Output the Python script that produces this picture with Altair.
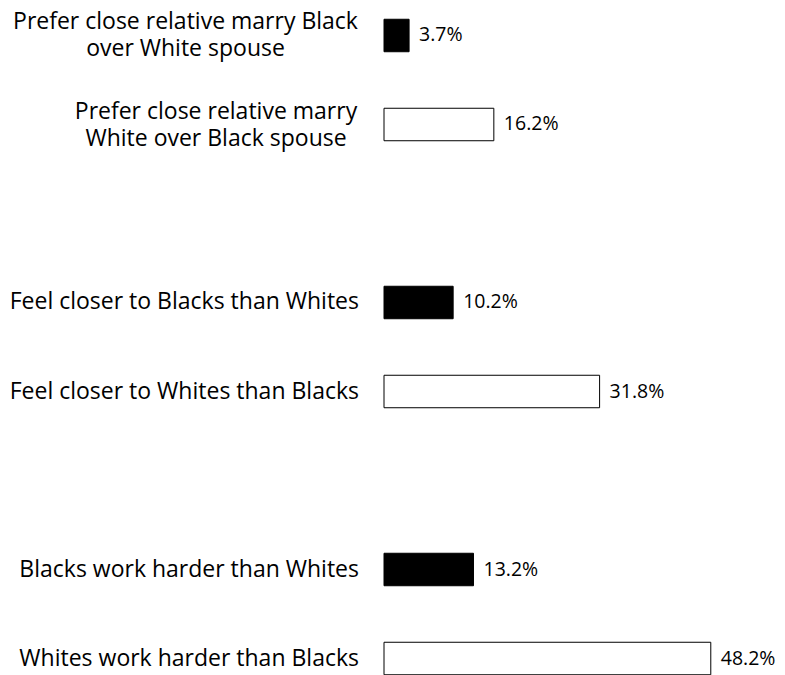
import altair as alt
import pandas as pd

categories = [
    "Prefer close relative marry Black\nover White spouse",
    "Prefer close relative marry\nWhite over Black spouse",
    "Feel closer to Blacks than Whites",
    "Feel closer to Whites than Blacks",
    "Blacks work harder than Whites",
    "Whites work harder than Blacks",
]
values = [3.7, 16.2, 10.2, 31.8, 13.2, 48.2]
favors = ["Black", "White", "Black", "White", "Black", "White"]
value_labels = ["3.7%", "16.2%", "10.2%", "31.8%", "13.2%", "48.2%"]

df = pd.DataFrame({
    "cat": categories,
    "value": values,
    "favors": favors,
    "label": value_labels,
    "idx": list(range(len(categories))),
})

y_domain = [categories[0], categories[1], "gap1", categories[2], categories[3],
            "gap2", categories[4], categories[5]]

FONT = "Open Sans"
CAT_SIZE = 23
VAL_SIZE = 19.5

y = alt.Y("cat:N", scale=alt.Scale(domain=y_domain, paddingInner=0.635, paddingOuter=0),
          axis=None, sort=None)
x = alt.X("value:Q", scale=alt.Scale(domain=[0, 50]), axis=None)
x0 = alt.X("zero:Q", scale=alt.Scale(domain=[0, 50]), axis=None)

base = alt.Chart(df)

bars = base.mark_bar(stroke="black", strokeWidth=1).encode(
    x=x, y=y,
    fill=alt.Fill("favors:N", scale=alt.Scale(domain=["Black", "White"], range=["black", "white"]),
                  legend=None),
)

vals = base.mark_text(align="left", baseline="middle", dx=10, font=FONT, fontSize=VAL_SIZE,
                      color="black").encode(x=x, y=y, text="label:N")

single = base.transform_filter("datum.idx >= 2").transform_calculate(zero="0").mark_text(
    align="right", baseline="middle", dx=-25, font=FONT, fontSize=CAT_SIZE, color="black"
).encode(x=x0, y=y, text="cat:N")

multi0 = base.transform_filter("datum.idx == 0").transform_calculate(zero="0").mark_text(
    align="center", baseline="middle", dx=-198.5, dy=-13.5, font=FONT, fontSize=CAT_SIZE,
    color="black", lineBreak="\n", lineHeight=27
).encode(x=x0, y=y, text="cat:N")

multi1 = base.transform_filter("datum.idx == 1").transform_calculate(zero="0").mark_text(
    align="center", baseline="middle", dx=-168, dy=-12.5, font=FONT, fontSize=CAT_SIZE,
    color="black", lineBreak="\n", lineHeight=27
).encode(x=x0, y=y, text="cat:N")

chart = alt.layer(bars, vals, single, multi0, multi1).properties(
    width=339, height=655.5,
    autosize=alt.AutoSizeParams(type="none"),
    padding={"left": 376, "top": 11.25, "right": 54, "bottom": 0},
    background="white",
).configure_view(stroke=None)

chart.save("out.html", embed_options={"renderer": "svg", "actions": False})
